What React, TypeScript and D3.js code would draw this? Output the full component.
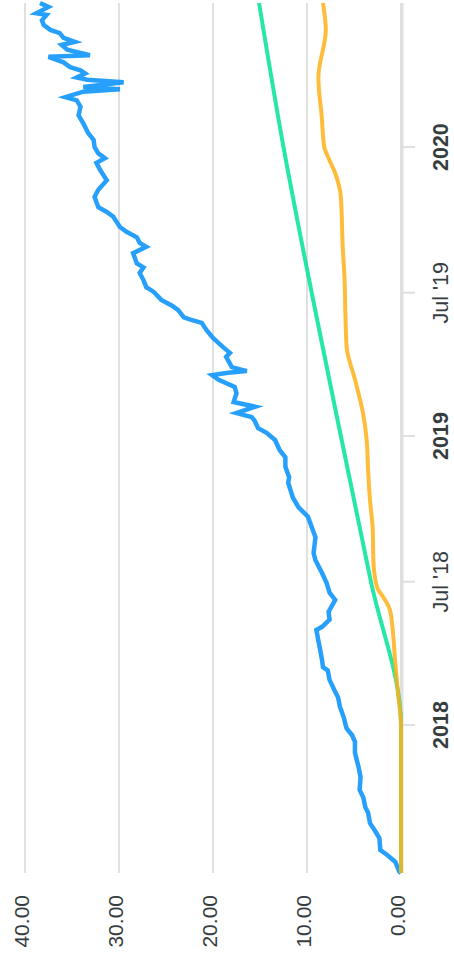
import React from "react";
import * as d3 from "d3";

const W = 454;
const H = 962;

// Portfolio value (blue)
const blueDates = [
  "2017-06-28","2017-06-30","2017-07-12","2017-07-21","2017-07-27","2017-08-11","2017-08-21","2017-08-30",
  "2017-09-12","2017-09-19","2017-10-01","2017-10-11","2017-10-27","2017-11-08","2017-11-27","2017-12-11",
  "2017-12-19","2017-12-28","2018-01-11","2018-01-24","2018-02-05","2018-02-12","2018-02-27","2018-03-11",
  "2018-03-15","2018-03-24","2018-04-06","2018-04-18","2018-05-01","2018-05-05","2018-05-14","2018-05-24",
  "2018-06-08","2018-06-17","2018-06-29","2018-07-12","2018-07-28","2018-08-06","2018-08-26","2018-09-21",
  "2018-10-03","2018-10-15","2018-11-03","2018-11-10","2018-11-23","2018-12-05","2018-12-14","2018-12-27",
  "2019-01-05","2019-01-11","2019-01-21","2019-01-25","2019-01-30","2019-02-07","2019-02-13","2019-02-24",
  "2019-03-04","2019-03-13","2019-03-19","2019-03-22","2019-03-24","2019-03-29","2019-04-11","2019-04-16",
  "2019-04-23","2019-05-05","2019-05-15","2019-05-24","2019-05-28","2019-05-31","2019-06-09","2019-06-15",
  "2019-06-22","2019-07-02","2019-07-08","2019-07-17","2019-07-26","2019-08-02","2019-08-07","2019-08-20",
  "2019-08-28","2019-09-02","2019-09-09","2019-09-16","2019-09-22","2019-10-01","2019-10-05","2019-10-11",
  "2019-10-17","2019-10-30","2019-11-08","2019-11-20","2019-12-03","2019-12-12","2019-12-18","2019-12-24",
  "2020-01-01","2020-01-10","2020-01-19","2020-01-31","2020-02-10","2020-02-21","2020-02-29","2020-03-04",
  "2020-03-11","2020-03-14","2020-03-17","2020-03-23","2020-03-26","2020-03-29","2020-04-03","2020-04-07",
  "2020-04-11","2020-04-17","2020-04-24","2020-04-26","2020-05-03","2020-05-09","2020-05-13","2020-05-18",
  "2020-05-24","2020-05-28","2020-06-03","2020-06-09","2020-06-16","2020-06-18","2020-06-26","2020-07-01",
];
const blueValues = [
  0.0, 0.2, 0.6, 1.5, 2.2, 2.3, 2.8, 3.3,
  3.5, 3.8, 4.0, 4.4, 4.3, 4.5, 4.9, 4.9,
  5.2, 5.8, 6.1, 6.5, 6.7, 7.0, 7.6, 7.8,
  8.3, 8.4, 8.6, 8.8, 9.0, 8.4, 7.6, 7.7,
  7.0, 7.6, 7.9, 8.4, 9.1, 9.3, 9.1, 9.9,
  10.9, 11.5, 12.0, 11.9, 12.3, 12.3, 12.9, 13.4,
  14.3, 15.2, 15.6, 15.9, 17.5, 15.5, 17.8, 17.5,
  17.7, 19.4, 20.1, 18.4, 16.4, 18.0, 18.6, 18.2,
  18.9, 20.0, 20.7, 21.2, 22.4, 23.1, 23.7, 24.4,
  25.5, 26.3, 27.1, 27.4, 27.8, 27.4, 28.1, 28.5,
  27.1, 27.8, 28.1, 29.2, 29.9, 30.4, 30.6, 31.3,
  32.2, 32.6, 32.2, 31.3, 32.0, 32.4, 31.5, 32.2,
  32.6, 32.7, 33.3, 33.8, 34.3, 34.1, 34.5, 35.7,
  33.8, 29.9, 33.8, 29.5, 33.4, 34.5, 33.6, 34.1,
  35.2, 35.9, 37.5, 33.1, 35.5, 36.1, 34.7, 35.9,
  36.3, 37.3, 38.0, 38.2, 37.7, 38.8, 37.5, 38.4,
];

// Invested (green)
const greenDates = ["2017-06-28", "2018-01-01", "2018-07-01", "2019-01-01", "2019-07-01", "2020-01-01", "2020-07-01"];
const greenValues = [0, 0, 3.2, 6.4, 9.5, 12.5, 15.1];

// Orange series
const orangeDates = [
  "2017-06-28","2018-01-01","2018-02-10","2018-03-24","2018-04-27","2018-05-26","2018-06-12","2018-06-24",
  "2018-07-28","2018-09-04","2018-10-12","2018-11-19","2018-12-27","2019-01-30","2019-03-13","2019-04-23",
  "2019-05-28","2019-07-17","2019-08-28","2019-10-30","2019-11-29","2019-12-16","2020-01-01","2020-02-08",
  "2020-03-29","2020-05-28","2020-07-01",
];
const orangeValues = [
  0, 0, 0.32, 0.64, 0.85, 1.17, 1.91, 2.55,
  2.94, 3.0, 3.3, 3.5, 3.65, 4.04, 4.89, 5.78,
  5.9, 6.0, 6.2, 6.4, 7.0, 7.63, 8.16, 8.43,
  8.79, 8.0, 8.3,
];

const valueTicks = [0, 10, 20, 30, 40];
const dateTicks = ["2018-01-01", "2018-07-01", "2019-01-01", "2019-07-01", "2020-01-01"];
const dateTickLabels = ["2018", "Jul '18", "2019", "Jul '19", "2020"];
const dateTickBold = [true, false, true, false, true];

const domainStart = "2017-06-28";
const domainEnd = "2020-07-01";

const parse = d3.utcParse("%Y-%m-%d");

export default function App() {
  const top = 3;
  const bottom = 873;
  const left = 25;
  const right = 401;

  const yTime = d3
    .scaleUtc()
    .domain([parse(domainStart) as Date, parse(domainEnd) as Date])
    .range([bottom, top]);
  const xVal = d3.scaleLinear().domain([0, 40]).range([right, left]);

  const mk = (dates: string[], vals: number[]) =>
    dates.map((d, i) => ({ date: parse(d) as Date, v: vals[i] }));

  const blue = mk(blueDates, blueValues);
  const green = mk(greenDates, greenValues);
  const orange = mk(orangeDates, orangeValues);

  const lineLinear = d3
    .line<{ date: Date; v: number }>()
    .x((d) => xVal(d.v))
    .y((d) => yTime(d.date));
  const lineSmooth = d3
    .line<{ date: Date; v: number }>()
    .x((d) => xVal(d.v))
    .y((d) => yTime(d.date))
    .curve(d3.curveMonotoneY);

  const font = "'Liberation Sans', Arial, Helvetica, sans-serif";
  const textColor = "#373d3f";

  return (
    <svg
      width={W}
      height={H}
      style={{ position: "absolute", left: 0, top: 0, background: "#fff" }}
    >
      {/* grid */}
      {valueTicks.map((t) => (
        <line
          key={"g" + t}
          x1={xVal(t)}
          x2={xVal(t)}
          y1={top}
          y2={bottom}
          stroke="#e0e0e0"
          strokeWidth={2}
        />
      ))}
      {/* time axis line + ticks */}
      <line x1={right + 1.5} x2={right + 1.5} y1={top} y2={bottom} stroke="#e0e0e0" strokeWidth={2} />
      {dateTicks.map((d, i) => (
        <line
          key={"t" + i}
          x1={right + 1.5}
          x2={right + 14}
          y1={yTime(parse(d) as Date)}
          y2={yTime(parse(d) as Date)}
          stroke="#e0e0e0"
          strokeWidth={2}
        />
      ))}
      {/* series */}
      <path d={lineLinear(blue) || ""} fill="none" stroke="#008FFB" strokeOpacity={0.85} strokeWidth={4.5} strokeLinejoin="miter" strokeMiterlimit={4} />
      <path d={lineSmooth(green) || ""} fill="none" stroke="#00E396" strokeOpacity={0.85} strokeWidth={4} strokeLinejoin="round" />
      <path d={lineSmooth(orange) || ""} fill="none" stroke="#FEB019" strokeOpacity={0.85} strokeWidth={4} strokeLinejoin="round" />
      {/* value labels */}
      {valueTicks.map((t) => (
        <text
          key={"vl" + t}
          transform={`translate(${xVal(t) + 4},895) rotate(-90)`}
          textAnchor="end"
          fontFamily={font}
          fontSize={21}
          fill={textColor}
        >
          {t.toFixed(2)}
        </text>
      ))}
      {/* date labels */}
      {dateTicks.map((d, i) => (
        <text
          key={"dl" + i}
          transform={`translate(448,${yTime(parse(d) as Date)}) rotate(-90)`}
          textAnchor="middle"
          fontFamily={font}
          fontSize={21.5}
          fontWeight={dateTickBold[i] ? 700 : 400}
          fill={textColor}
        >
          {dateTickLabels[i]}
        </text>
      ))}
    </svg>
  );
}
